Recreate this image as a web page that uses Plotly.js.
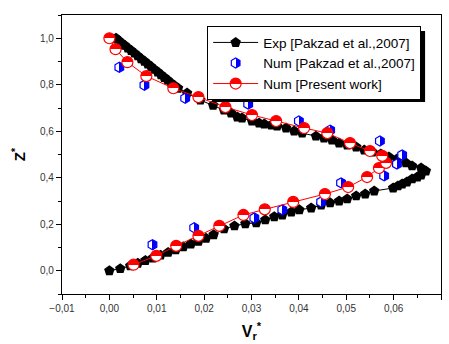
<!DOCTYPE html>
<html>
<head>
<meta charset="utf-8">
<script src="https://cdn.plot.ly/plotly-3.0.1.min.js"></script>
<style>html,body{margin:0;padding:0;background:#fff;}#chart{width:449px;height:344px;}</style>
</head>
<body>
<div id="chart"></div>
<script>
// Exp [Pakzad et al.,2007]
const expX = [0.0000, 0.0023, 0.0044, 0.0060, 0.0076, 0.0092, 0.0108, 0.0124, 0.0140, 0.0156, 0.0172, 0.0188, 0.0204, 0.0220, 0.0242, 0.0264, 0.0287, 0.0310, 0.0329, 0.0348, 0.0365, 0.0384, 0.0401, 0.0426, 0.0447, 0.0466, 0.0485, 0.0502, 0.0521, 0.0540, 0.0559, 0.0599, 0.0609, 0.0618, 0.0628, 0.0639, 0.0650, 0.0658, 0.0668,
  0.0658, 0.0639, 0.0626, 0.0607, 0.0590, 0.0573, 0.0555, 0.0538, 0.0521, 0.0502, 0.0485, 0.0470, 0.0453, 0.0436, 0.0407, 0.0390, 0.0373, 0.0354, 0.0342, 0.0327, 0.0316, 0.0301, 0.0280, 0.0270, 0.0257, 0.0242, 0.0219, 0.0192, 0.0164, 0.0145,
  0.0137, 0.0130, 0.0123, 0.0116, 0.0109, 0.0102, 0.0095, 0.0088, 0.0081, 0.0074, 0.0067, 0.0060, 0.0053, 0.0046, 0.0039, 0.0032, 0.0025, 0.0019, 0.0014];
const expY = [0.000, 0.009, 0.021, 0.032, 0.044, 0.055, 0.067, 0.079, 0.090, 0.103, 0.115, 0.127, 0.140, 0.155, 0.180, 0.193, 0.202, 0.206, 0.219, 0.232, 0.240, 0.253, 0.262, 0.270, 0.283, 0.292, 0.300, 0.309, 0.322, 0.330, 0.343, 0.356, 0.365, 0.373, 0.382, 0.395, 0.403, 0.412, 0.429,
  0.442, 0.451, 0.464, 0.481, 0.489, 0.502, 0.511, 0.519, 0.532, 0.541, 0.549, 0.562, 0.571, 0.579, 0.592, 0.601, 0.614, 0.622, 0.627, 0.631, 0.635, 0.644, 0.657, 0.661, 0.678, 0.691, 0.712, 0.734, 0.764, 0.785,
  0.797, 0.808, 0.820, 0.831, 0.843, 0.855, 0.866, 0.878, 0.889, 0.901, 0.912, 0.924, 0.936, 0.947, 0.958, 0.970, 0.981, 0.991, 1.000];

// Num [Pakzad et al.,2007]
const numPX = [0.0091, 0.0179, 0.0306, 0.0365, 0.0447, 0.0489, 0.0580, 0.0607, 0.0618, 0.0571, 0.0466, 0.0400, 0.0293, 0.0160, 0.0074, 0.0021];
const numPY = [0.112, 0.185, 0.227, 0.262, 0.296, 0.378, 0.408, 0.459, 0.498, 0.558, 0.605, 0.644, 0.717, 0.742, 0.798, 0.875];

// Num [Present work]
const presX = [0.0051, 0.0099, 0.0141, 0.0188, 0.0232, 0.0283, 0.0328, 0.0388, 0.0455, 0.0504, 0.0544, 0.0569, 0.0584, 0.0576, 0.0550, 0.0508, 0.0460, 0.0411, 0.0352, 0.0301, 0.0245, 0.0188, 0.0135, 0.0078, 0.0038, 0.0013, 0.0000];
const presY = [0.026, 0.064, 0.107, 0.150, 0.193, 0.240, 0.264, 0.296, 0.330, 0.360, 0.403, 0.442, 0.464, 0.494, 0.515, 0.549, 0.592, 0.614, 0.644, 0.670, 0.704, 0.747, 0.785, 0.837, 0.897, 0.953, 1.000];

const seriesNames = ['Exp [Pakzad et al.,2007]', 'Num [Pakzad et al.,2007]', 'Num [Present work]'];
const xTickVals = [-0.01, 0.00, 0.01, 0.02, 0.03, 0.04, 0.05, 0.06, 0.07];
const yTickVals = [0.0, 0.2, 0.4, 0.6, 0.8, 1.0];

const traces = [
  {x: expX, y: expY, name: seriesNames[0], type: 'scatter', mode: 'lines+markers',
   line: {color: '#000', width: 1},
   marker: {symbol: 'pentagon', size: 11, color: '#000', line: {width: 0}}},
  {x: numPX, y: numPY, name: seriesNames[1], type: 'scatter', mode: 'markers',
   marker: {symbol: 'hexagon', size: 10, color: '#ffffff', gradient: {type: 'horizontal', color: '#0000ff'}, line: {color: '#0000ff', width: 1.2}}},
  {x: presX, y: presY, name: seriesNames[2], type: 'scatter', mode: 'lines+markers',
   line: {color: '#ff0000', width: 1},
   marker: {symbol: 'circle', size: 11, color: '#ff0000', gradient: {type: 'vertical', color: '#ffffff'}, line: {color: '#ff0000', width: 1.2}}}
];

const tickFont = {family: 'Arial, Liberation Sans, sans-serif', size: 10, color: '#333'};

const layout = {
  width: 449, height: 344,
  margin: {l: 62, r: 8, t: 15, b: 50},
  paper_bgcolor: '#fff', plot_bgcolor: '#fff',
  separators: ', ',
  showlegend: true,
  font: {family: 'Arial, Liberation Sans, sans-serif', color: '#000'},
  xaxis: {
    range: [-0.01, 0.07], tickvals: xTickVals, tickformat: '.2f',
    ticks: 'outside', ticklen: 5, tickwidth: 1, tickcolor: '#000',
    minor: {dtick: 0.005, ticks: 'outside', ticklen: 3, tickcolor: '#000'},
    showline: true, linecolor: '#000', linewidth: 1.2, mirror: true,
    showgrid: false, zeroline: false, tickfont: tickFont,
    title: {text: '<b>V<sub>r</sub><sup>*</sup></b>', font: {size: 16, color: '#000'}, standoff: 12}
  },
  yaxis: {
    range: [-0.1, 1.1], tickvals: yTickVals, tickformat: '.1f',
    ticks: 'outside', ticklen: 5, tickwidth: 1, tickcolor: '#000',
    minor: {dtick: 0.1, ticks: 'outside', ticklen: 3, tickcolor: '#000'},
    showline: true, linecolor: '#000', linewidth: 1.2, mirror: true,
    showgrid: false, zeroline: false, tickfont: tickFont,
    title: {text: '<b>Z<sup>*</sup></b>', font: {size: 15, color: '#000'}, standoff: 10}
  },
  xaxis2: {
    overlaying: 'x', side: 'top', anchor: 'y', range: [-0.01, 0.07], tickvals: xTickVals,
    ticks: 'inside', ticklen: 4, tickcolor: '#000', showticklabels: false,
    minor: {dtick: 0.005, ticks: 'inside', ticklen: 3, tickcolor: '#000'},
    showline: false, showgrid: false, zeroline: false
  },
  yaxis2: {
    overlaying: 'y', side: 'right', anchor: 'x', range: [-0.1, 1.1], tickvals: yTickVals,
    ticks: 'inside', ticklen: 4, tickcolor: '#000', showticklabels: false,
    minor: {dtick: 0.1, ticks: 'inside', ticklen: 3, tickcolor: '#000'},
    showline: false, showgrid: false, zeroline: false
  },
  legend: {
    x: 0.383, y: 0.96, xanchor: 'left', yanchor: 'top',
    bgcolor: '#fff', bordercolor: '#000', borderwidth: 1,
    font: {size: 13.5, color: '#000', family: 'Arial, Liberation Sans, sans-serif'},
    itemwidth: 45, tracegroupgap: 0
  },
  shapes: [
    {type: 'rect', xref: 'paper', yref: 'paper', x0: 0.396, x1: 0.958, y0: 0.688, y1: 0.943,
     fillcolor: '#000', line: {width: 0}, layer: 'above'}
  ]
};

Plotly.newPlot('chart', traces, layout, {displayModeBar: false, staticPlot: true}).then(function (gd) {
  // make the half-filled marker gradients sharp (two-tone markers)
  gd.querySelectorAll('linearGradient').forEach(function (g) {
    const stops = g.querySelectorAll('stop');
    if (stops.length < 2) return;
    const a = stops[0], b = stops[stops.length - 1];
    const c0 = a.getAttribute('stop-color'), o0 = a.getAttribute('stop-opacity') || '1';
    const c1 = b.getAttribute('stop-color'), o1 = b.getAttribute('stop-opacity') || '1';
    stops.forEach(function (s) { s.remove(); });
    [['0%', c0, o0], ['50%', c0, o0], ['50%', c1, o1], ['100%', c1, o1]].forEach(function (d) {
      const s = document.createElementNS('http://www.w3.org/2000/svg', 'stop');
      s.setAttribute('offset', d[0]);
      s.setAttribute('stop-color', d[1]);
      s.setAttribute('stop-opacity', d[2]);
      g.appendChild(s);
    });
  });
});
</script>
</body>
</html>
